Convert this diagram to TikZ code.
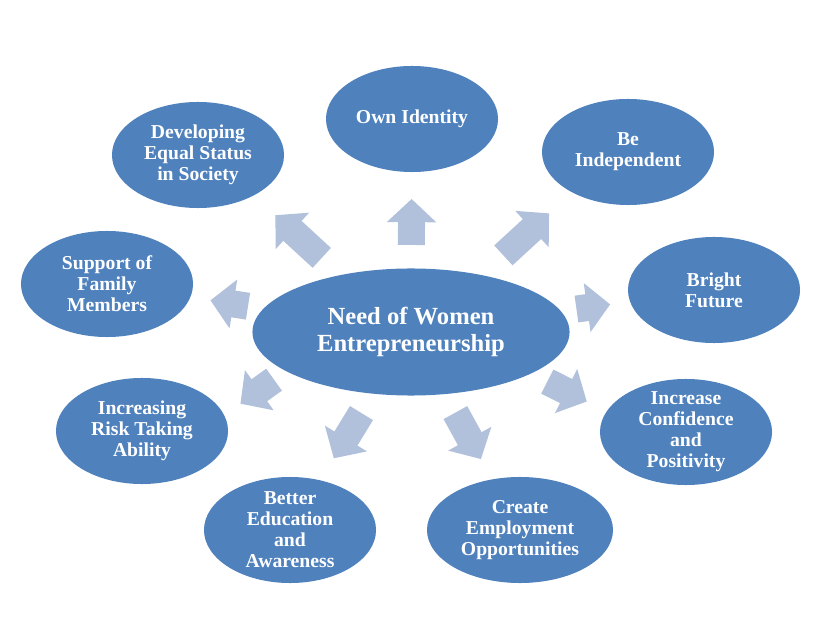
\documentclass[tikz,border=0pt]{standalone}
\usepackage{fontspec}
\setmainfont{Liberation Serif}
\usetikzlibrary{shapes.geometric, arrows.meta, calc}
\definecolor{bubbleblue}{RGB}{79, 129, 189}
\definecolor{arrowgrey}{RGB}{178, 193, 219}
\tikzset{
  bubble/.style={ellipse, fill=bubbleblue, minimum width=4.3cm, minimum height=2.65cm, inner sep=0pt},
  bubbletext/.style={text=white, font=\fontsize{14}{15}\selectfont\bfseries, align=center, inner sep=0pt},
  hubtext/.style={text=white, font=\fontsize{17.5}{19}\selectfont\bfseries, align=center, inner sep=0pt},
  blockarr/.style={draw=arrowgrey, line width=0.675cm, -{Triangle[length=0.58cm, width=1.2cm]}}
}

\begin{document}
\begin{tikzpicture}[x=0.025cm, y=-0.025cm]
  \fill[white] (0,0) rectangle (826,628);
  \useasboundingbox (0,0) rectangle (826,628);

  % hub
  \node[bubble, minimum width=7.925cm, minimum height=3.175cm, label={[hubtext]center:{Need of Women\\Entrepreneurship}}] (core) at (411, 332) {};

  % outer ring
  \node[bubble, label={[bubbletext]center:Own Identity}] (own) at (412, 119) {};
  \node[bubble, label={[bubbletext]center:{Be\\Independent}}] (indep) at (628, 152) {};
  \node[bubble, label={[bubbletext]center:{Bright\\Future}}] (bright) at (714, 290) {};
  \node[bubble, label={[bubbletext]center:{Increase\\Confidence\\and\\Positivity}}] (conf) at (686, 432) {};
  \node[bubble, minimum width=4.65cm, label={[bubbletext]center:{Create\\Employment\\Opportunities}}] (jobs) at (520, 530) {};
  \node[bubble, label={[bubbletext]center:{Better\\Education\\and\\Awareness}}] (edu) at (290, 530) {};
  \node[bubble, label={[bubbletext]center:{Increasing\\Risk Taking\\Ability}}] (risk) at (142, 431) {};
  \node[bubble, label={[bubbletext]center:{Support of\\Family\\Members}}] (family) at (107, 284) {};
  \node[bubble, label={[bubbletext]center:{Developing\\Equal Status\\in Society}}] (status) at (198, 155) {};

  % block arrows out of the hub
  \draw[blockarr] ($(core)!2.175cm!(own)$) -- ($(core)!3.325cm!(own)$);
  \draw[blockarr] ($(core)!3.0cm!(indep)$) -- ($(core)!4.55cm!1:(indep)$);
  \draw[blockarr] ($(core)!4.175cm!(bright)$) -- ($(core)!5.025cm!(bright)$);
  \draw[blockarr] ($(core)!3.625cm!(conf)$) -- ($(core)!4.725cm!-1.6:(conf)$);
  \draw[blockarr] ($(core)!2.3cm!(jobs)$) -- ($(core)!3.625cm!(jobs)$);
  \draw[blockarr] ($(core)!2.375cm!(edu)$) -- ($(core)!3.7cm!(edu)$);
  \draw[blockarr] ($(core)!3.625cm!-1:(risk)$) -- ($(core)!4.625cm!2.6:(risk)$);
  \draw[blockarr] ($(core)!4.125cm!(family)$) -- ($(core)!5.075cm!(family)$);
  \draw[blockarr] ($(core)!2.9cm!(status)$) -- ($(core)!4.475cm!-1:(status)$);
\end{tikzpicture}
\end{document}
